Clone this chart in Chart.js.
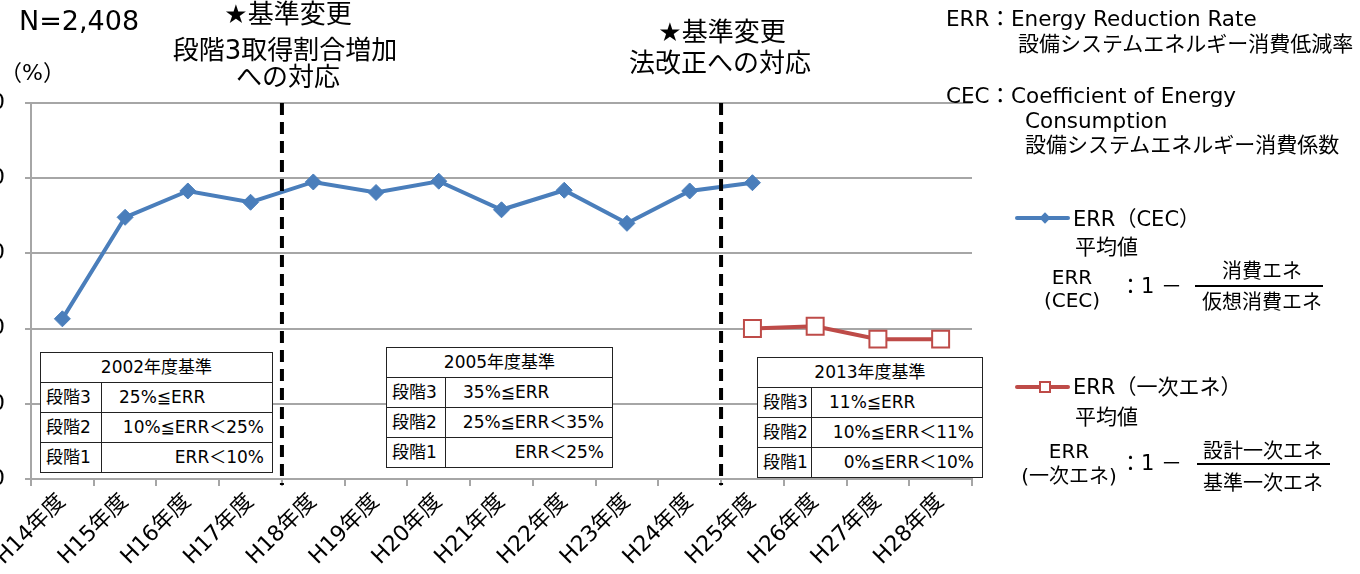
<!DOCTYPE html>
<html lang="ja">
<head>
<meta charset="utf-8">
<script src="https://cdn.jsdelivr.net/npm/chart.js@4"></script>
<style>
  html, body { margin: 0; padding: 0; background: #fff; }
  body { width: 1360px; height: 574px; position: relative; overflow: hidden;
         font-family: "DejaVu Sans", "Noto Sans CJK JP", sans-serif; color: #000; }
  #chart { position: absolute; left: 0; top: 0; }
  .t { position: absolute; white-space: nowrap; line-height: 1; }
  table.std { position: absolute; border-collapse: collapse; background: #fff;
              font-size: 17px; table-layout: fixed; }
  table.std td { border: 1.5px solid #222; padding: 0; line-height: 1; white-space: nowrap; }
  table.std td.head { text-align: center; }
  table.std td.lvl { padding-left: 5px; }
  table.std td.first { padding-left: 17px; text-align: left; }
  table.std td.rest { padding-right: 8px; text-align: right; }
  .swatch { position: absolute; height: 4px; border-radius: 2px; }
  .mark { position: absolute; box-sizing: border-box; }
</style>
</head>
<body>
<canvas id="chart" width="1360" height="574"></canvas>
<script>
// 年度別 ERR 平均値
const categories = ['H14年度', 'H15年度', 'H16年度', 'H17年度', 'H18年度', 'H19年度', 'H20年度',
  'H21年度', 'H22年度', 'H23年度', 'H24年度', 'H25年度', 'H26年度', 'H27年度', 'H28年度'];
const errCec = [21.3, 34.8, 38.3, 36.8, 39.5, 38.1, 39.6, 35.8, 38.4, 34.0, 38.3, 39.4, null, null, null];
const errPrimary = [null, null, null, null, null, null, null, null, null, null, null, 20.0, 20.3, 18.6, 18.6];
const yTicks = [0, 10, 20, 30, 40, 50];
// 基準変更（この年度の後に破線）
const changeAfter = ['H17年度', 'H24年度'];

const standard2002 = [['段階3', '25%≦ERR'], ['段階2', '10%≦ERR＜25%'], ['段階1', 'ERR＜10%']];
const standard2005 = [['段階3', '35%≦ERR'], ['段階2', '25%≦ERR＜35%'], ['段階1', 'ERR＜25%']];
const standard2013 = [['段階3', '11%≦ERR'], ['段階2', '10%≦ERR＜11%'], ['段階1', '0%≦ERR＜10%']];

const blue = '#4A7EBB';
const red = '#BE4B48';
const gridColor = '#a6a6a6';
const fontFamily = '"DejaVu Sans", "Noto Sans CJK JP", sans-serif';

const dashedLines = {
  id: 'dashedLines',
  afterDatasetsDraw(chart) {
    const { ctx, chartArea, scales: { x } } = chart;
    ctx.save();
    ctx.strokeStyle = '#000';
    ctx.lineWidth = 4;
    ctx.setLineDash([12, 7]);
    changeAfter.forEach(c => {
      const i = categories.indexOf(c);
      const px = (x.getPixelForValue(i) + x.getPixelForValue(i + 1)) / 2;
      ctx.beginPath();
      ctx.moveTo(px, chartArea.top);
      ctx.lineTo(px, chartArea.bottom + 6);
      ctx.stroke();
    });
    ctx.restore();
  }
};

const ctx = document.getElementById('chart').getContext('2d');
const chart = new Chart(ctx, {
  type: 'line',
  data: {
    labels: categories,
    datasets: [{
      label: 'ERR（CEC）平均値',
      data: errCec,
      borderColor: blue,
      backgroundColor: blue,
      borderWidth: 4,
      pointStyle: 'rectRot',
      pointRadius: 8,
      pointBorderWidth: 1,
      pointBackgroundColor: blue,
      pointBorderColor: blue
    }, {
      label: 'ERR（一次エネ）平均値',
      data: errPrimary,
      borderColor: red,
      backgroundColor: '#fff',
      borderWidth: 4,
      pointStyle: 'rect',
      pointRadius: 12,
      pointBorderWidth: 2,
      pointBackgroundColor: '#fff',
      pointBorderColor: red
    }]
  },
  options: {
    responsive: false,
    animation: false,
    layout: { padding: { left: 0, right: 388, top: 103, bottom: 0 } },
    plugins: { legend: { display: false }, tooltip: { enabled: false } },
    scales: {
      x: {
        offset: true,
        grid: { offset: true, drawOnChartArea: false, tickLength: 7, color: gridColor, lineWidth: 2 },
        border: { color: gridColor, width: 2 },
        ticks: {
          autoSkip: false, maxRotation: 45, minRotation: 45, padding: 3,
          color: '#000', font: { family: fontFamily, size: 22 }
        },
        afterFit: s => { s.height = 95; s.paddingLeft = 0; s.paddingRight = 0; }
      },
      y: {
        min: 0,
        max: 50,
        afterBuildTicks: s => { s.ticks = yTicks.map(v => ({ value: v })); },
        grid: { color: gridColor, lineWidth: 2, tickLength: 6 },
        border: { color: gridColor, width: 2 },
        ticks: { padding: 20, color: '#000', font: { family: fontFamily, size: 22 } },
        afterFit: s => { s.width = 31; s.paddingTop = 0; s.paddingBottom = 0; }
      }
    }
  },
  plugins: [dashedLines]
});

function addText(txt, x, cy, size, align) {
  const d = document.createElement('div');
  d.className = 't';
  d.textContent = txt;
  d.style.fontSize = size + 'px';
  d.style.top = (cy - size * 0.47) + 'px';
  d.style.left = x + 'px';
  if (align === 'center') d.style.transform = 'translateX(-50%)';
  document.body.appendChild(d);
}

function addTable(title, rows, left, top, width, col1, rowH) {
  const t = document.createElement('table');
  t.className = 'std';
  t.style.left = left + 'px';
  t.style.top = top + 'px';
  t.style.width = width + 'px';
  let html = '<colgroup><col style="width:' + col1 + 'px"><col></colgroup>';
  html += '<tr style="height:' + rowH + 'px"><td class="head" colspan="2">' + title + '</td></tr>';
  rows.forEach((r, i) => {
    html += '<tr style="height:' + rowH + 'px"><td class="lvl">' + r[0] + '</td><td class="' +
      (i === 0 ? 'first' : 'rest') + '">' + r[1] + '</td></tr>';
  });
  t.innerHTML = html;
  document.body.appendChild(t);
}

function addBox(cls, css) {
  const d = document.createElement('div');
  d.className = cls;
  Object.assign(d.style, css);
  document.body.appendChild(d);
}

// 左上・注記
addText('N=2,408', 19, 20, 27);
addText('（%）', 0, 72, 22);
addText('★基準変更', 288, 13.5, 26, 'center');
addText('段階3取得割合増加', 285, 49, 26, 'center');
addText('への対応', 288, 76, 26, 'center');
addText('★基準変更', 722, 31, 26, 'center');
addText('法改正への対応', 720, 62, 26, 'center');

// 右側・用語
addText('ERR：Energy Reduction Rate', 946, 18, 21.5);
addText('設備システムエネルギー消費低減率', 1018, 44, 21);
addText('CEC：Coefficient of Energy', 946, 95, 21.5);
addText('Consumption', 1025, 120, 21.5);
addText('設備システムエネルギー消費係数', 1025, 145, 21);

// 凡例 1
addBox('swatch', { left: '1015px', top: '216px', width: '55px', background: blue });
addBox('mark', { left: '1041px', top: '214px', width: '8px', height: '8px', background: blue, transform: 'rotate(45deg)' });
addText('ERR（CEC）', 1073, 219, 21);
addText('平均値', 1075, 247, 21);
addText('ERR', 1072, 276, 20, 'center');
addText('(CEC)', 1072, 299, 20, 'center');
addText('：1 －', 1120, 286, 21);
addText('消費エネ', 1262, 270, 20, 'center');
addBox('swatch', { left: '1195px', top: '285px', width: '128px', height: '2px', background: '#000', borderRadius: '0' });
addText('仮想消費エネ', 1262, 301, 20, 'center');

// 凡例 2
addBox('swatch', { left: '1015px', top: '385px', width: '55px', background: red });
addBox('mark', { left: '1039px', top: '381px', width: '12px', height: '12px', background: '#fff', border: '2px solid ' + red });
addText('ERR（一次エネ）', 1073, 387, 21);
addText('平均値', 1075, 417, 21);
addText('ERR', 1069, 450, 20, 'center');
addText('(一次エネ)', 1069, 475, 20, 'center');
addText('：1 －', 1120, 463, 21);
addText('設計一次エネ', 1263, 450, 20, 'center');
addBox('swatch', { left: '1197px', top: '463px', width: '133px', height: '2px', background: '#000', borderRadius: '0' });
addText('基準一次エネ', 1263, 482, 20, 'center');

// 基準表
addTable('2002年度基準', standard2002, 40, 352, 233, 61, 30);
addTable('2005年度基準', standard2005, 386, 347, 227, 59, 30);
addTable('2013年度基準', standard2013, 757, 357, 226, 54, 30);
</script>
</body>
</html>
